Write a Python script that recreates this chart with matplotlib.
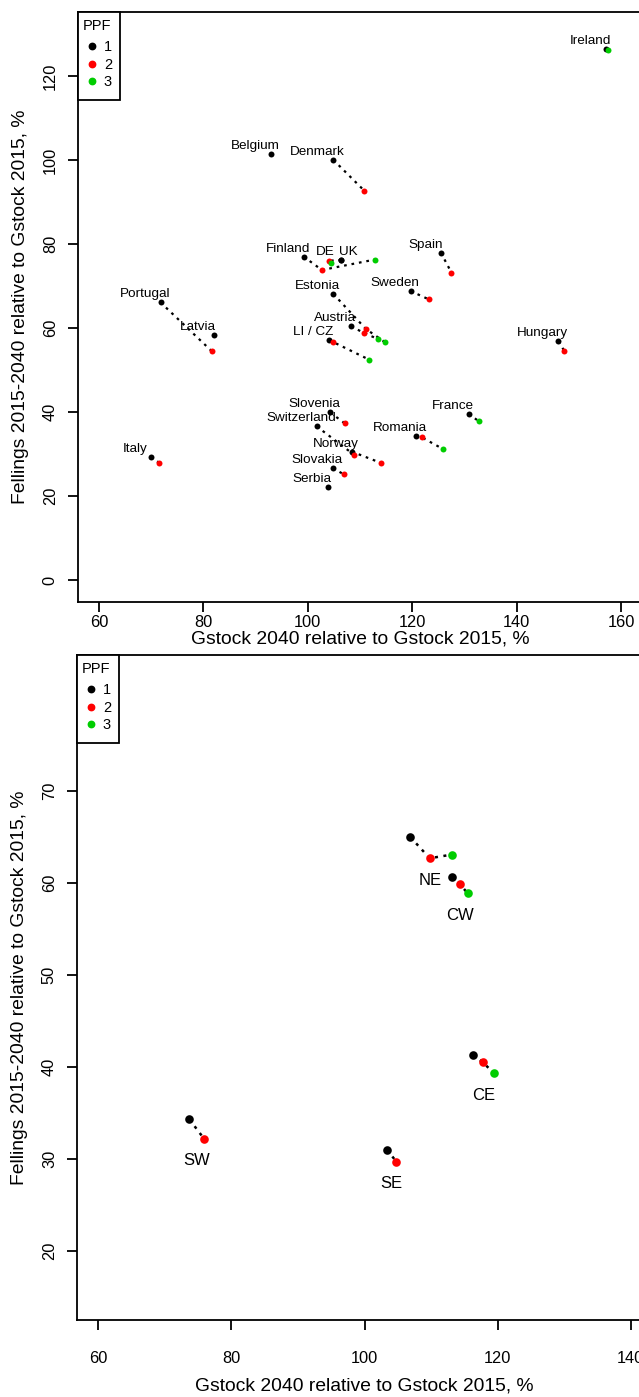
import numpy as np
import matplotlib
matplotlib.use("Agg")
import matplotlib.pyplot as plt
from matplotlib.patches import Rectangle

plt.rcParams['font.family'] = ['Liberation Sans', 'DejaVu Sans']

nan = np.nan

# --- top panel: countries, Gstock / Fellings for PPF 1, 2, 3 (nan = not shown)
countries = ["Ireland", "Belgium", "Denmark", "Finland", "DE", "UK", "Spain",
             "Sweden", "Portugal", "Latvia", "Estonia", "Austria", "LI / CZ",
             "Hungary", "Slovenia", "Switzerland", "Norway", "Slovakia",
             "Serbia", "Italy", "France", "Romania"]
gs1 = [157.2, 93.0, 104.9, 99.2, 106.4, 106.4, 125.5, 119.7, 71.8, 82.0, 104.9,
       108.3, 104.1, 148.0, 104.3, 101.7, 108.4, 104.8, 103.8, 69.9, 130.8, 120.7]
gs2 = [nan, nan, 110.8, 102.7, 104.1, nan, 127.5, 123.2, 81.6, nan, 111.1,
       110.8, 104.8, 149.1, 107.1, 108.9, 114.0, 106.9, nan, 71.6, nan, 121.8]
gs3 = [157.5, nan, nan, 112.9, 104.5, nan, nan, nan, nan, nan, 114.8,
       113.4, 111.7, nan, nan, nan, nan, nan, nan, nan, 132.8, 125.9]
fl1 = [126.4, 101.4, 100.0, 77.0, 76.2, 76.2, 77.9, 68.8, 66.1, 58.3, 68.1,
       60.4, 57.1, 56.8, 39.9, 36.6, 30.6, 26.6, 22.2, 29.2, 39.5, 34.2]
fl2 = [nan, nan, 92.7, 73.8, 76.0, nan, 73.2, 66.8, 54.5, nan, 59.8,
       58.8, 56.7, 54.6, 37.3, 29.8, 27.9, 25.2, nan, 27.9, nan, 34.0]
fl3 = [126.2, nan, nan, 76.3, 75.5, nan, nan, nan, nan, nan, 56.6,
       57.4, 52.5, nan, nan, nan, nan, nan, nan, nan, 37.8, 31.2]

# --- bottom panel: regions
regions = ["NE", "CW", "CE", "SW", "SE"]
rg1 = [106.9, 113.2, 116.3, 73.7, 103.4]
rg2 = [109.8, 114.3, 117.8, 75.9, 104.8]
rg3 = [113.1, 115.5, 119.5, nan, nan]
rf1 = [65.0, 60.7, 41.3, 34.3, 31.0]
rf2 = [62.7, 59.9, 40.5, 32.2, 29.7]
rf3 = [63.1, 58.9, 39.3, nan, nan]

ppf_labels = ["1", "2", "3"]
ppf_colors = ["black", "#FF0000", "#00CD00"]

W, H = 639, 1397
fig = plt.figure(figsize=(W / 100, H / 100), dpi=100)


def px_axes(left, top, right, bottom):
    return fig.add_axes([left / W, 1 - bottom / H, (right - left) / W, (bottom - top) / H])


def style_axes(ax, xpad, xlabelpad):
    for s in ax.spines.values():
        s.set_linewidth(1.3)
    ax.tick_params(direction='out', length=7.5, width=1.3, labelsize=11.8, pad=7)
    ax.tick_params(axis='x', pad=xpad)
    for t in ax.get_yticklabels():
        t.set_rotation(90)
        t.set_va('center')
    ax.set_xlabel("Gstock 2040 relative to Gstock 2015, %", fontsize=13.9, labelpad=xlabelpad)
    ax.set_ylabel("Fellings 2015-2040 relative to Gstock 2015, %", fontsize=13.9, labelpad=10)


def draw_legend(ax, left, top):
    # small boxed legend at the top-left corner, pixel offsets
    def f(x, y):
        return ((left + x) / W, 1 - (top + y) / H)
    fig.patches.append(Rectangle(f(0, 88), 42 / W, 88 / H, transform=fig.transFigure,
                                 fill=True, facecolor='white', edgecolor='black',
                                 linewidth=1.3, zorder=10))
    fig.text(*f(5, 14), "PPF", fontsize=10.5, ha='left', va='center', zorder=11)
    for k, lab in enumerate(ppf_labels):
        y = 34 + k * 17.6
        fig.lines.append(plt.Line2D([f(13.7, y)[0]], [f(13.7, y)[1]], marker='o', ms=4.6,
                                    color=ppf_colors[k], transform=fig.transFigure, zorder=11))
        fig.text(*f(30, y + 1), lab, fontsize=10.5, ha='center', va='center', zorder=11)


dot = (0, (1.2, 2.2))

# top panel
ax1 = px_axes(78, 12, 642, 602)
for i, name in enumerate(countries):
    xs = np.array([gs1[i], gs2[i], gs3[i]])
    ys = np.array([fl1[i], fl2[i], fl3[i]])
    ok = ~np.isnan(xs)
    ax1.plot(xs[ok], ys[ok], color='black', ls=dot, lw=1.6, zorder=2)
    for k in range(3):
        if ok[k]:
            ax1.plot(xs[k], ys[k], 'o', color=ppf_colors[k], ms=4.3, mew=0, zorder=3 + k)
    dx = 4.4 if name == "UK" else 0.0
    ax1.text(gs1[i] - 3 + dx, fl1[i] + 1.9, name, ha='center', va='center', fontsize=9.7, zorder=8)
ax1.set_xlim(56, 164)
ax1.set_ylim(-5.2, 135.2)
ax1.set_xticks([60, 80, 100, 120, 140, 160])
ax1.set_yticks([0, 20, 40, 60, 80, 100, 120])
style_axes(ax1, 2, 0)
draw_legend(ax1, 78, 12)

# bottom panel
ax2 = px_axes(77, 655, 652, 1320)
for i, name in enumerate(regions):
    xs = np.array([rg1[i], rg2[i], rg3[i]])
    ys = np.array([rf1[i], rf2[i], rf3[i]])
    ok = ~np.isnan(xs)
    ax2.plot(xs[ok], ys[ok], color='black', ls=dot, lw=1.8, zorder=2)
    for k in range(3):
        if ok[k]:
            ax2.plot(xs[k], ys[k], 'o', color=ppf_colors[k], ms=6.2, mew=0, zorder=3 + k)
    ax2.text(np.mean(xs[ok]), np.min(ys[ok]) - 2.4, name, ha='center', va='center', fontsize=12)
ax2.set_xlim(56.8, 143.2)
ax2.set_ylim(12.5, 84.8)
ax2.set_xticks([60, 80, 100, 120, 140])
ax2.set_yticks([20, 30, 40, 50, 60, 70])
style_axes(ax2, 15, 8)
draw_legend(ax2, 77, 655)

fig.savefig("out.png", dpi=100)
